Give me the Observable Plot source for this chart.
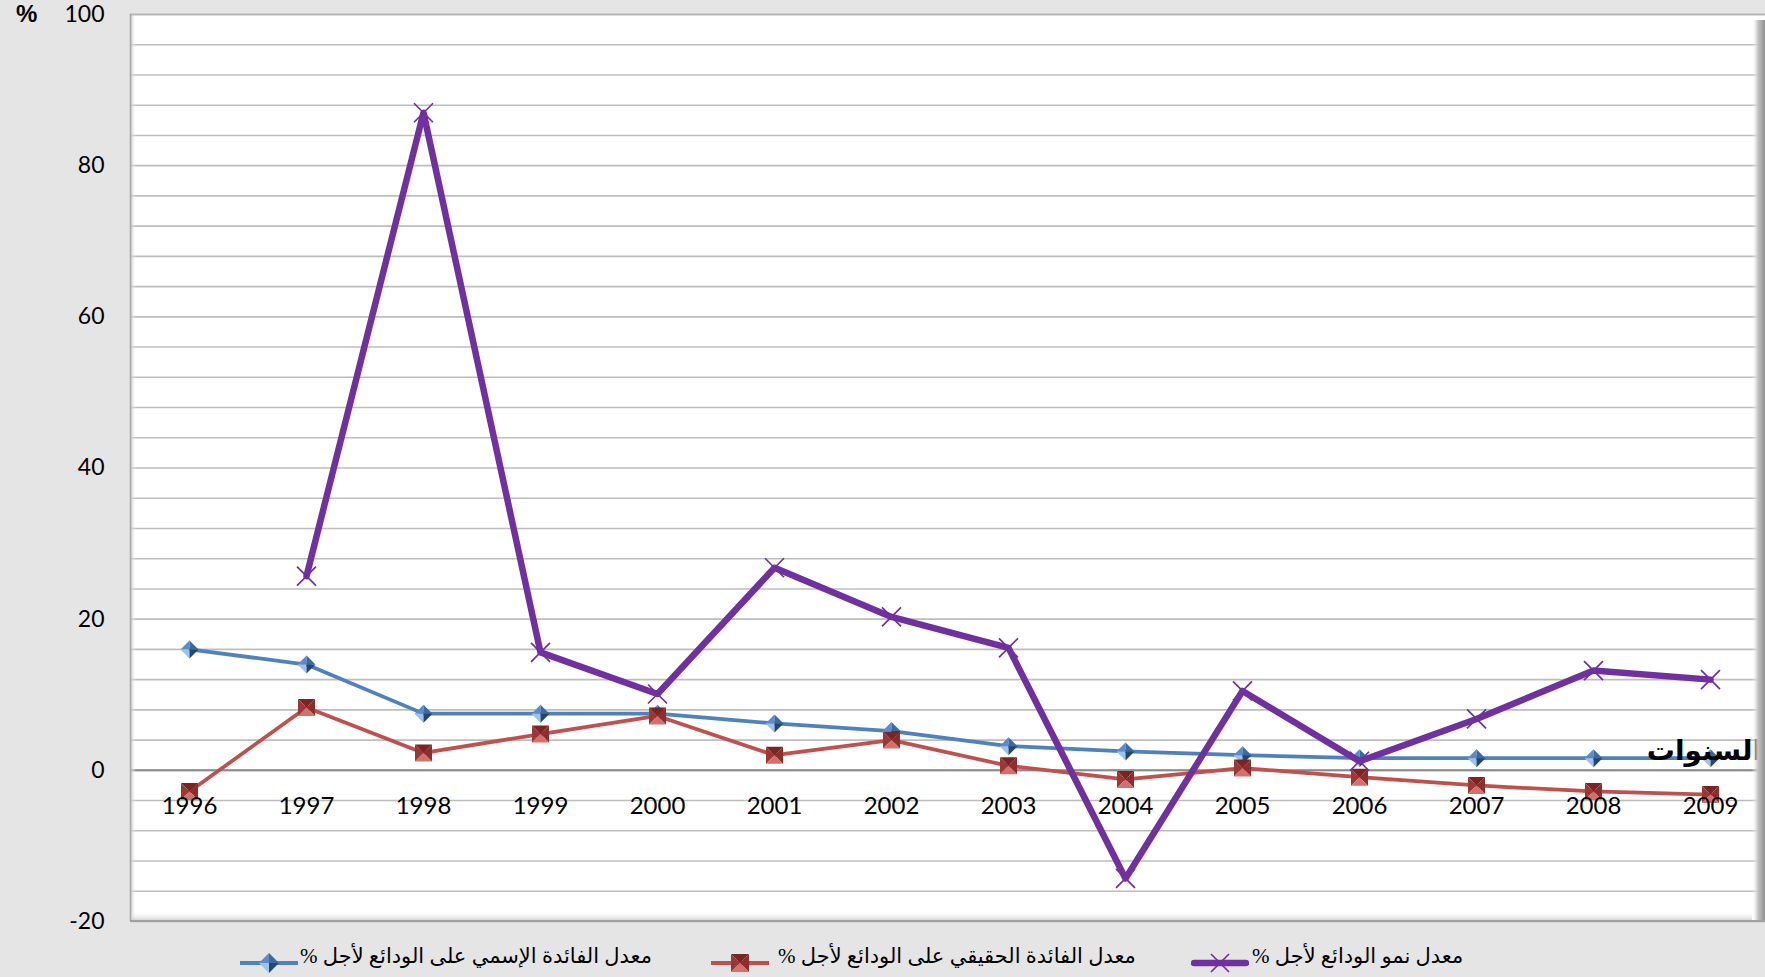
<!DOCTYPE html>
<html><head><meta charset="utf-8">
<script src="https://cdn.jsdelivr.net/npm/d3@7"></script>
<script src="https://cdn.jsdelivr.net/npm/@observablehq/plot@0.6"></script>
<style>
html,body{margin:0;padding:0;background:#e5e5e5;overflow:hidden;}
#wrap{position:relative;width:1765px;height:977px;background:#e5e5e5;overflow:hidden;}
#chart{position:absolute;left:0;top:0;}
.pct{position:absolute;left:16px;top:2px;font:bold 24px/24px "Liberation Sans",Arial,sans-serif;color:#000;}
.legend{position:absolute;left:0;top:944px;width:1765px;height:33px;}
.item{position:absolute;top:0;height:33px;}
.item svg{position:absolute;top:0;}
.lab{position:absolute;top:0;height:33px;line-height:33px;font:21px "Liberation Serif","DejaVu Sans",serif;direction:rtl;white-space:nowrap;color:#000;}
</style></head><body>
<div id="wrap"><div id="chart"></div><div class="pct" id="ytitle"></div><div class="legend" id="legend"></div></div>
<script>
// ---- data ----
const years = [1996, 1997, 1998, 1999, 2000, 2001, 2002, 2003, 2004, 2005, 2006, 2007, 2008, 2009];
const nominalRate = [16, 14, 7.5, 7.5, 7.5, 6.2, 5.2, 3.2, 2.5, 2.0, 1.6, 1.6, 1.6, 1.6];
const realRate = [-2.8, 8.3, 2.3, 4.8, 7.2, 2.0, 4.0, 0.6, -1.2, 0.3, -0.9, -2.0, -2.8, -3.2];
const depositGrowth = [null, 25.7, 87, 15.6, 10.1, 26.8, 20.3, 16.2, -14.3, 10.5, 1.2, 6.8, 13.2, 12.0];
const yTicks = [-20, 0, 20, 40, 60, 80, 100];
const gridTicks = d3.range(-20, 101, 4);
const seriesNames = [
  "معدل الفائدة الإسمي على الودائع لأجل %",
  "معدل الفائدة الحقيقي على الودائع لأجل %",
  "معدل نمو الودائع لأجل %"
];
const xTitle = "السنوات";
const yTitle = "%";

const rows = years.map((year, i) => ({year, nominal: nominalRate[i], real: realRate[i], growth: depositGrowth[i]}));

// ---- faceted marker symbols ----
function facet(pts) {
  return {draw(ctx, size) {
    const h = Math.sqrt(size / Math.PI);
    ctx.moveTo(pts[0][0] * h, pts[0][1] * h);
    for (let i = 1; i < pts.length; i++) ctx.lineTo(pts[i][0] * h, pts[i][1] * h);
    ctx.closePath();
  }};
}
const C = [0, 0];
const diamondFacets = [
  {sym: facet([[-1,0],[0,-1],C]), fill: "#5a8ccb"},
  {sym: facet([[0,-1],[1,0],C]), fill: "#3b6aa3"},
  {sym: facet([[-1,0],[0,1],C]), fill: "#9cc3ee"},
  {sym: facet([[0,1],[1,0],C]), fill: "#24466f"}
];
const squareFacets = [
  {sym: facet([[-1,-1],[1,-1],C]), fill: "#7a2523"},
  {sym: facet([[-1,-1],[-1,1],C]), fill: "#9b3835"},
  {sym: facet([[1,-1],[1,1],C]), fill: "#8a2f2c"},
  {sym: facet([[-1,1],[1,1],C]), fill: "#d3706c"}
];
const crossSym = {draw(ctx, size) {
  const h = Math.sqrt(size / Math.PI);
  ctx.moveTo(-h, -h); ctx.lineTo(h, h);
  ctx.moveTo(-h, h); ctx.lineTo(h, -h);
}};

const blue = "#4f81bd", red = "#c0504d", purple = "#7030a0";
const tickFont = "Lato, sans-serif";

const plot = Plot.plot({
  width: 1765,
  height: 935,
  marginLeft: 130,
  marginRight: 0,
  marginTop: 14,
  marginBottom: 14,
  style: {background: "transparent", fontFamily: tickFont, fontSize: "23px", color: "#000"},
  x: {type: "point", domain: years, range: [188, 1711], padding: 0, axis: null},
  y: {domain: [-20, 100]},
  marks: [
    Plot.frame({fill: "white", stroke: null}),
    Plot.ruleY(gridTicks, {stroke: "#bdbdbd", strokeWidth: 1.6}),
    Plot.ruleY([0], {stroke: "#8a8a8a", strokeWidth: 2}),
    Plot.axisY({ticks: yTicks, tickFormat: d => String(d), tickSize: 0, tickPadding: 26, label: null, fontSize: 23, fontFamily: tickFont}),
    Plot.line(rows, {x: "year", y: "nominal", stroke: blue, strokeWidth: 3.75}),
    ...diamondFacets.map(f => Plot.dot(rows, {x: "year", y: "nominal", r: 9, symbol: f.sym, fill: f.fill, stroke: null})),
    Plot.line(rows, {x: "year", y: "real", stroke: red, strokeWidth: 3.75}),
    ...squareFacets.map(f => Plot.dot(rows, {x: "year", y: "real", r: 8.5, symbol: f.sym, fill: f.fill, stroke: null})),
    Plot.line(rows, {x: "year", y: "growth", stroke: purple, strokeWidth: 6.5}),
    Plot.dot(rows, {x: "year", y: "growth", r: 9.5, symbol: crossSym, stroke: purple, strokeWidth: 1.7, fill: "none"}),
    Plot.text(rows, {x: "year", y: () => 0, text: d => String(d.year), dy: 36, fontSize: 24, fontFamily: tickFont, fill: "#000"}),
    Plot.text([xTitle], {x: () => years[years.length - 1], y: () => 2.6, text: d => d, dx: -6, fontSize: 28, fontWeight: "bold", fontFamily: "Liberation Serif, DejaVu Sans, serif", fill: "#000"})
  ]
});
document.getElementById("chart").appendChild(plot);
document.getElementById("ytitle").textContent = yTitle;

// ---- 3D-style bevel of the plot area ----
const svg = d3.select(plot);
const L = 130, R = 1765, T = 14, B = 921;
const defs = svg.insert("defs", ":first-child");
function grad(id, x2, y2, stops) {
  const g = defs.append("linearGradient").attr("id", id).attr("x1", 0).attr("y1", 0).attr("x2", x2).attr("y2", y2);
  stops.forEach(([o, c, a]) => g.append("stop").attr("offset", o).attr("stop-color", c).attr("stop-opacity", a));
}
grad("gR", 1, 0, [[0, "#ffffff", 0], [0.45, "#c4c4c4", 1], [1, "#8e8e8e", 1]]);
grad("gL", 1, 0, [[0, "#b9b9b9", 1], [1, "#ffffff", 0]]);
grad("gB", 0, 1, [[0, "#ffffff", 0], [1, "#cdcdcd", 1]]);
const bevel = svg.append("g");
bevel.append("rect").attr("x", L).attr("y", T).attr("width", 6).attr("height", B - T).attr("fill", "url(#gL)");
bevel.append("rect").attr("x", R - 13).attr("y", T + 6).attr("width", 13).attr("height", B - T - 6).attr("fill", "url(#gR)");
bevel.append("rect").attr("x", L).attr("y", B - 10).attr("width", R - L - 13).attr("height", 10).attr("fill", "url(#gB)");
bevel.append("line").attr("x1", L).attr("x2", R).attr("y1", T + 0.5).attr("y2", T + 0.5).attr("stroke", "#b3b3b3").attr("stroke-width", 1.5);
bevel.append("line").attr("x1", L + 0.5).attr("x2", L + 0.5).attr("y1", T).attr("y2", B).attr("stroke", "#a9a9a9").attr("stroke-width", 1.5);
bevel.append("line").attr("x1", L).attr("x2", R).attr("y1", B).attr("y2", B).attr("stroke", "#a0a0a0").attr("stroke-width", 2);

// ---- legend ----
function markerSvg(kind) {
  const w = 58, h = 33, cy = 19, cx = 29;
  let s = `<svg width="${w}" height="${h}" viewBox="0 0 ${w} ${h}">`;
  if (kind === 0) {
    s += `<line x1="0" x2="${w}" y1="${cy}" y2="${cy}" stroke="${blue}" stroke-width="4"/>`;
    const r = 10;
    s += `<path d="M${cx-r},${cy}L${cx},${cy-r}L${cx},${cy}Z" fill="#5a8ccb"/>`;
    s += `<path d="M${cx},${cy-r}L${cx+r},${cy}L${cx},${cy}Z" fill="#3b6aa3"/>`;
    s += `<path d="M${cx-r},${cy}L${cx},${cy+r}L${cx},${cy}Z" fill="#9cc3ee"/>`;
    s += `<path d="M${cx},${cy+r}L${cx+r},${cy}L${cx},${cy}Z" fill="#24466f"/>`;
  } else if (kind === 1) {
    s += `<line x1="0" x2="${w}" y1="${cy}" y2="${cy}" stroke="${red}" stroke-width="4"/>`;
    const r = 9;
    s += `<path d="M${cx-r},${cy-r}L${cx+r},${cy-r}L${cx},${cy}Z" fill="#7a2523"/>`;
    s += `<path d="M${cx-r},${cy-r}L${cx-r},${cy+r}L${cx},${cy}Z" fill="#9b3835"/>`;
    s += `<path d="M${cx+r},${cy-r}L${cx+r},${cy+r}L${cx},${cy}Z" fill="#8a2f2c"/>`;
    s += `<path d="M${cx-r},${cy+r}L${cx+r},${cy+r}L${cx},${cy}Z" fill="#d3706c"/>`;
  } else {
    s += `<line x1="3" x2="${w-3}" y1="${cy}" y2="${cy}" stroke="${purple}" stroke-width="6.5" stroke-linecap="round"/>`;
    const r = 9;
    s += `<path d="M${cx-r},${cy-r}L${cx+r},${cy+r}M${cx-r},${cy+r}L${cx+r},${cy-r}" stroke="${purple}" stroke-width="1.7"/>`;
  }
  return s + `</svg>`;
}
const legendPos = [[240, 300], [711, 778], [1191, 1252]];
const lg = document.getElementById("legend");
seriesNames.forEach((name, i) => {
  const m = document.createElement("div");
  m.className = "item";
  m.style.left = legendPos[i][0] + "px";
  m.innerHTML = markerSvg(i);
  lg.appendChild(m);
  const t = document.createElement("div");
  t.className = "lab";
  t.style.left = legendPos[i][1] + "px";
  t.textContent = name;
  lg.appendChild(t);
});
</script>
</body></html>
